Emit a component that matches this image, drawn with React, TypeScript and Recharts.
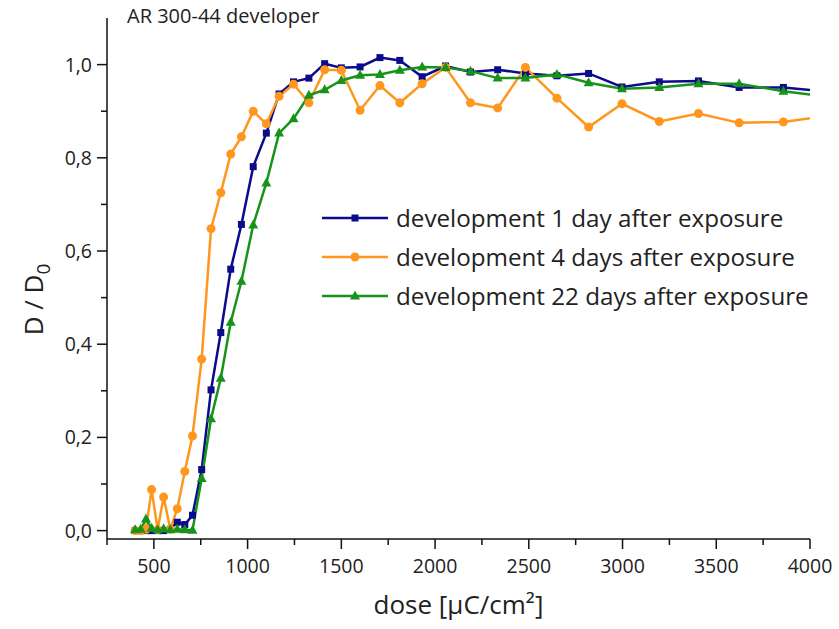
import React from 'react'
import { LineChart, Line, XAxis, YAxis, Legend } from 'recharts'

document.body.style.margin = '0'

const FONT = '"Open Sans", sans-serif'

// dose values (µC/cm²), shared by all three series
const DOSE = [400, 430, 458, 488, 520, 552, 588, 625, 665, 706, 755, 805, 857, 910, 967, 1030, 1100, 1168, 1245, 1327,
  1411, 1500, 1600, 1706, 1812, 1931, 2056, 2189, 2334, 2482, 2650, 2819, 2997, 3196, 3405, 3622, 3858, 4110]

const DAY1 = [0, 0, 0, 0, 0, 0, 0.003, 0.018, 0.013, 0.033, 0.131, 0.302, 0.425, 0.561, 0.657, 0.781, 0.853, 0.937, 0.963, 0.971,
  1.002, 0.993, 0.995, 1.015, 1.009, 0.974, 0.997, 0.984, 0.989, 0.981, 0.976, 0.981, 0.952, 0.963, 0.965, 0.951, 0.951, 0.941]

const DAY4 = [0, 0, 0.003, 0.088, 0.002, 0.072, 0.003, 0.047, 0.127, 0.203, 0.368, 0.648, 0.725, 0.808, 0.845, 0.9, 0.873, 0.932, 0.958, 0.918,
  0.989, 0.988, 0.902, 0.955, 0.918, 0.959, 0.994, 0.918, 0.907, 0.994, 0.928, 0.866, 0.916, 0.878, 0.895, 0.875, 0.877, 0.891]

const DAY22 = [0.002, 0.003, 0.025, 0.005, 0.002, 0.004, 0.002, 0.003, 0.002, 0.001, 0.112, 0.24, 0.327, 0.447, 0.535, 0.656, 0.746, 0.853, 0.884, 0.934,
  0.946, 0.966, 0.977, 0.979, 0.988, 0.995, 0.994, 0.986, 0.971, 0.971, 0.979, 0.961, 0.948, 0.951, 0.959, 0.959, 0.943, 0.93]

const X_TICKS = [250, 500, 750, 1000, 1250, 1500, 1750, 2000, 2250, 2500, 2750, 3000, 3250, 3500, 3750, 4000]
const Y_TICKS = [0, 0.1, 0.2, 0.3, 0.4, 0.5, 0.6, 0.7, 0.8, 0.9, 1.0]

const BLUE = '#0b0b8c'
const ORANGE = '#ff961e'
const GREEN = '#18931a'

const SERIES = [
  { key: 'd1', name: 'development 1 day after exposure', color: BLUE, shape: 'square' },
  { key: 'd4', name: 'development 4 days after exposure', color: ORANGE, shape: 'circle' },
  { key: 'd22', name: 'development 22 days after exposure', color: GREEN, shape: 'triangle' },
]

const rows = DOSE.map((dose, i) => ({ dose, d1: DAY1[i], d4: DAY4[i], d22: DAY22[i] }))

function Marker({ cx, cy, shape, color }: any) {
  if (cx == null || cy == null) return null
  if (shape === 'square') return <rect x={cx - 3.5} y={cy - 3.5} width={7} height={7} fill={color} />
  if (shape === 'circle') return <circle cx={cx} cy={cy} r={4.5} fill={color} />
  return <polygon points={`${cx},${cy - 5.5} ${cx + 5},${cy + 3.5} ${cx - 5},${cy + 3.5}`} fill={color} />
}

function XTick({ x, y, payload }: any) {
  const major = payload.value % 500 === 0
  return (
    <g>
      <line x1={x} x2={x} y1={y} y2={y + (major ? 10 : 6)} stroke="#111" strokeWidth={1.5} />
      {major && <text x={x} y={y + 34} textAnchor="middle" fontSize={19.5} fontFamily={FONT} fill="#222">{payload.value}</text>}
    </g>
  )
}

function YTick({ x, y, payload }: any) {
  const v = payload.value
  const major = Math.round(v * 10) % 2 === 0
  return (
    <g>
      <line x1={x} x2={x - (major ? 10 : 6)} y1={y} y2={y} stroke="#111" strokeWidth={1.5} />
      {major && <text x={x - 15} y={y + 7} textAnchor="end" fontSize={19.5} fontFamily={FONT} fill="#222">{v.toFixed(1).replace('.', ',')}</text>}
    </g>
  )
}

function LegendBox() {
  return (
    <div style={{ fontFamily: FONT, fontSize: 24.2, color: '#222' }}>
      {SERIES.map(s => (
        <div key={s.key} style={{ display: 'flex', alignItems: 'center', height: 39 }}>
          <svg width={70} height={20}>
            <line x1={2} x2={68} y1={10} y2={10} stroke={s.color} strokeWidth={2.5} />
            <Marker cx={35} cy={10} shape={s.shape} color={s.color} />
          </svg>
          <span style={{ marginLeft: 6, whiteSpace: 'nowrap' }}>{s.name}</span>
        </div>
      ))}
    </div>
  )
}

export default function App() {
  return (
    <div style={{ position: 'relative', width: 839, height: 629, background: '#fff' }}>
      <LineChart width={839} height={629} data={rows} margin={{ top: 18, right: 29, left: 0, bottom: 0 }}>
        <XAxis
          type="number" dataKey="dose" domain={[250, 4000]} allowDataOverflow ticks={X_TICKS} interval={0}
          height={90} tickSize={0} tickMargin={0} tick={<XTick />} stroke="#111" strokeWidth={1.5}
          label={{
            content: ({ viewBox }: any) => (
              <text x={viewBox.x + viewBox.width / 2} y={viewBox.y + 75} textAnchor="middle" fontSize={26} fontFamily={FONT} fill="#222">
                dose [µC/cm²]
              </text>
            ),
          }}
        />
        <YAxis
          type="number" domain={[-0.018, 1.1]} allowDataOverflow ticks={Y_TICKS} interval={0}
          width={107} tickSize={0} tickMargin={0} tick={<YTick />} stroke="#111" strokeWidth={1.5}
          label={{
            content: ({ viewBox }: any) => {
              const cx = 43
              const cy = viewBox.y + viewBox.height / 2 + 21
              return (
                <text transform={`translate(${cx},${cy}) rotate(-90)`} textAnchor="middle" fontSize={26} fontFamily={FONT} fill="#222">
                  D / D<tspan fontSize={19} dy={7}>0</tspan>
                </text>
              )
            },
          }}
        />
        <Legend
          layout="vertical" verticalAlign="middle" align="center"
          content={() => <LegendBox />} wrapperStyle={{ left: 320, top: 198, width: 510 }}
        />
        {SERIES.map(s => (
          <Line
            key={s.key} dataKey={s.key} name={s.name} stroke={s.color} strokeWidth={2.5} type="linear"
            isAnimationActive={false}
            dot={(p: any) => <Marker key={p.index} cx={p.cx} cy={p.cy} shape={s.shape} color={s.color} />}
            activeDot={false}
          />
        ))}
      </LineChart>
      <div style={{ position: 'absolute', left: 127, top: 2, fontFamily: FONT, fontSize: 20, color: '#222' }}>AR 300-44 developer</div>
    </div>
  )
}
